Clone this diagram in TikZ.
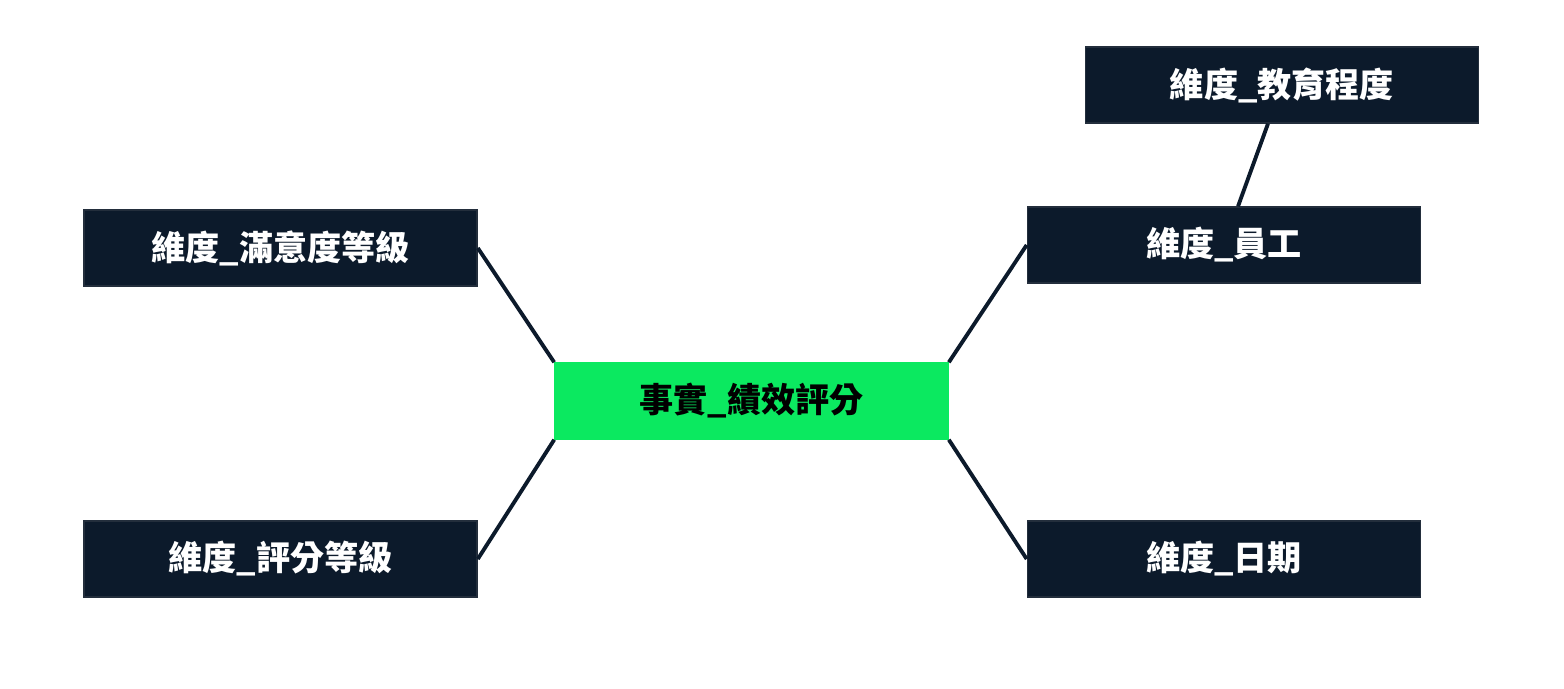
\documentclass[tikz,border=0pt]{standalone}
\usepackage{fontspec}
\newfontfamily\cjk{Noto Sans CJK TC}
\usepackage{tikz}
\definecolor{dunkel}{HTML}{0C1A2B}
\definecolor{gruen}{HTML}{0BE960}

\begin{document}
\begin{tikzpicture}[x=0.01cm, y=-0.01cm,
	dim/.style={fill=dunkel, draw=dunkel!80!gray, text=white, minimum width=3.93cm, minimum height=0.76cm, inner sep=0pt, font=\cjk\bfseries\fontsize{9.7}{11}\selectfont},
	fakt/.style={dim, fill=gruen, draw=gruen, text=black},
	link/.style={draw=dunkel, line width=1.1pt}]

	\useasboundingbox (0, 0) rectangle (1564, 688);

	%Tabellen
	\node[fakt] (bewertung) at (751.5, 401) {事實\_績效評分};
	\node[dim] (zufrieden) at (280.5, 248) {維度\_滿意度等級};
	\node[dim] (stufe) at (280.5, 559) {維度\_評分等級};
	\node[dim] (mitarbeiter) at (1224, 245) {維度\_員工};
	\node[dim] (datum) at (1224, 559) {維度\_日期};
	\node[dim] (bildung) at (1282, 85) {維度\_教育程度};

	%Verbindungen
	\draw[link] (bewertung.north west) -- (zufrieden.east);
	\draw[link] (bewertung.south west) -- (stufe.east);
	\draw[link] (bewertung.north east) -- (mitarbeiter.west);
	\draw[link] (bewertung.south east) -- (datum.west);
	\draw[link] (bildung) -- (mitarbeiter);

\end{tikzpicture}
\end{document}
